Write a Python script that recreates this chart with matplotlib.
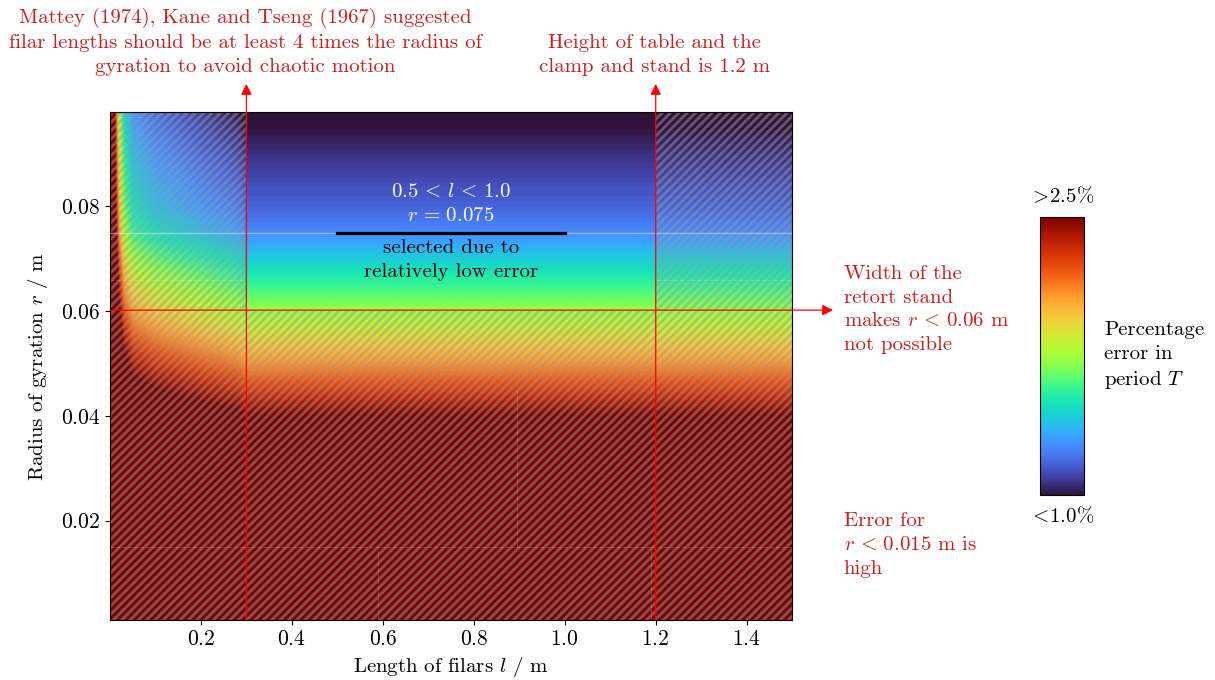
import numpy as np
import matplotlib
matplotlib.use("Agg")
import matplotlib.pyplot as plt
from matplotlib.patches import Rectangle
from matplotlib.cm import ScalarMappable
from matplotlib.colors import Normalize

plt.rcParams.update({
    "font.family": "serif",
    "font.serif": ["cmr10"],
    "mathtext.fontset": "cm",
    "axes.unicode_minus": False,
    "axes.formatter.use_mathtext": True,
    "font.size": 15,
    "hatch.linewidth": 2.1,
})

# grille : longueur des fils l (m) et rayon de giration r (m)
L_GRID = [0.0, 0.005, 0.01, 0.015, 0.02, 0.03, 0.05, 0.1, 0.2, 0.28, 0.3, 1.5]
R_GRID = [0.0, 0.035, 0.04, 0.045, 0.05, 0.055, 0.06, 0.065, 0.07, 0.075, 0.08, 0.09, 0.1]
# erreur en pourcent sur la periode T (une ligne par valeur de R_GRID)
ERR = [
    [9.0, 8.0, 7.5, 7.2, 7.0, 6.8, 6.6, 6.5, 6.4, 6.3, 6.2, 6.2],
    [5.8, 4.8, 4.25, 3.85, 3.55, 3.25, 3.07, 2.97, 2.87, 2.8, 2.75, 2.75],
    [5.5, 4.5, 4.0, 3.6, 3.3, 3.0, 2.82, 2.72, 2.62, 2.55, 2.5, 2.5],
    [5.3, 4.3, 3.78, 3.38, 3.08, 2.78, 2.6, 2.5, 2.4, 2.33, 2.28, 2.28],
    [5.1, 4.1, 3.58, 3.18, 2.88, 2.58, 2.4, 2.3, 2.2, 2.13, 2.08, 2.08],
    [4.9, 3.9, 3.4, 3.0, 2.7, 2.4, 2.22, 2.12, 2.02, 1.95, 1.9, 1.9],
    [4.7, 3.7, 3.22, 2.82, 2.52, 2.22, 2.04, 1.94, 1.84, 1.77, 1.72, 1.72],
    [4.6, 3.6, 3.07, 2.67, 2.37, 2.07, 1.89, 1.79, 1.69, 1.62, 1.57, 1.57],
    [4.4, 3.4, 2.92, 2.52, 2.22, 1.92, 1.74, 1.64, 1.54, 1.47, 1.42, 1.42],
    [4.3, 3.3, 2.76, 2.36, 2.06, 1.76, 1.58, 1.48, 1.38, 1.31, 1.26, 1.26],
    [4.2, 3.2, 2.67, 2.27, 1.97, 1.67, 1.49, 1.39, 1.29, 1.22, 1.17, 1.17],
    [4.1, 3.1, 2.56, 2.16, 1.86, 1.56, 1.38, 1.28, 1.18, 1.11, 1.06, 1.06],
    [4.0, 3.0, 2.45, 2.05, 1.75, 1.45, 1.27, 1.17, 1.07, 1.0, 0.95, 0.95],
]
ERR_MIN, ERR_MAX = 1.0, 2.5

# contraintes experimentales
L_MIN, L_MAX = 0.3, 1.2
R_MIN = 0.06
R_HIGH_ERR = 0.015
SEL_L = (0.5, 1.0)
SEL_R = 0.075

RED = "#cc1f1f"
LS = 1.42

fig = plt.figure(figsize=(12.15, 6.8), dpi=100)
ax = fig.add_axes([0.0905, 0.088, 0.5615, 0.747])
cax = fig.add_axes([0.856, 0.272, 0.036, 0.409])

norm = Normalize(ERR_MIN, ERR_MAX)
levels = np.linspace(ERR_MIN, ERR_MAX, 151)
ax.contourf(L_GRID, R_GRID, np.array(ERR), levels=levels, cmap="turbo",
            norm=norm, extend="both")
ax.set_xlim(0.0, 1.5)
ax.set_ylim(0.001, 0.098)

# zones hachurees (non realisables)
hatch_col = (0.6, 0.6, 0.6, 0.5)
for x0, y0, w, h in [(0.0, 0.0, L_MIN, 0.1),
                     (L_MAX, 0.0, 1.5 - L_MAX, 0.1),
                     (L_MIN, 0.0, L_MAX - L_MIN, R_MIN)]:
    ax.add_patch(Rectangle((x0, y0), w, h, facecolor="none", edgecolor=hatch_col,
                           hatch="////", lw=0, zorder=2))

# traits pointilles discrets
dash_kw = dict(color="white", alpha=0.2, lw=0.8, ls="--", zorder=2)
ax.plot([0.0, 1.5], [R_HIGH_ERR, R_HIGH_ERR], **dash_kw)
ax.plot([0.59, 0.59], [0.0, R_HIGH_ERR], **dash_kw)
ax.plot([1.19, 1.19], [0.0, R_HIGH_ERR], **dash_kw)
ax.plot([0.895, 0.895], [R_HIGH_ERR, 0.045], **dash_kw)
ax.plot([0.0, L_MIN], [0.066, 0.066], **dash_kw)
ax.plot([L_MAX, 1.5], [0.066, 0.066], **dash_kw)

# choix retenu
ax.axhline(SEL_R, color="white", alpha=0.4, lw=1, zorder=3)
ax.plot(SEL_L, [SEL_R, SEL_R], color="black", lw=2.3, zorder=4)
ax.text(0.75, 0.0764, r"$0.5 \,<\, l \,<\, 1.0$" "\n" r"$r \,=\, 0.075$", color="white",
        ha="center", va="bottom", zorder=5, linespacing=LS)
ax.text(0.75, 0.0737, "selected due to\nrelatively low error", color="black",
        ha="center", va="top", zorder=5, linespacing=LS)

# fleches rouges
arrow_kw = dict(arrowstyle="-|>", color="red", lw=0.9, mutation_scale=16,
                shrinkA=0, shrinkB=0)
for lx in [L_MIN, L_MAX]:
    ax.annotate("", xy=(lx, 0.1034), xytext=(lx, 0.001), arrowprops=arrow_kw,
                annotation_clip=False, zorder=6)
ax.annotate("", xy=(1.59, 0.0602), xytext=(0.0, 0.0602), arrowprops=arrow_kw,
            annotation_clip=False, zorder=6)

fig.text(245 / 1215, 1 - 42 / 680,
         "Mattey (1974), Kane and Tseng (1967) suggested\n"
         "filar lengths should be at least 4 times the radius of\n"
         "gyration to avoid chaotic motion",
         ha="center", va="center", color=RED, multialignment="center", linespacing=LS)
fig.text(655 / 1215, 1 - 55 / 680,
         "Height of table and the\nclamp and stand is 1.2 m",
         ha="center", va="center", color=RED, multialignment="center", linespacing=LS)
ax.text(1.613, 0.0603,
        "Width of the\nretort stand\nmakes $r \\,<\\, 0.06$ m\nnot possible",
        ha="left", va="center", color=RED, clip_on=False, linespacing=LS)
ax.text(1.613, 0.0154, "Error for\n$r \\,<\\, 0.015$ m is\nhigh",
        ha="left", va="center", color=RED, clip_on=False, linespacing=LS)

ax.set_xticks([0.2, 0.4, 0.6, 0.8, 1.0, 1.2, 1.4])
ax.set_yticks([0.02, 0.04, 0.06, 0.08])
ax.tick_params(labelsize=15.5)
ax.set_xlabel("Length of filars $l$ / m")
ax.set_ylabel("Radius of gyration $r$ / m", labelpad=8)

# barre de couleur
cb = fig.colorbar(ScalarMappable(norm=norm, cmap="turbo"), cax=cax)
cb.set_ticks([])
cb.outline.set_linewidth(0.8)
cax.text(0.5, 1.04, r"$>\!$2.5%", transform=cax.transAxes, ha="center", va="bottom")
cax.text(0.5, -0.04, r"$<\!$1.0%", transform=cax.transAxes, ha="center", va="top")
fig.text(1104 / 1215, 1 - 356 / 680, "Percentage\nerror in\nperiod $T$",
         ha="left", va="center", linespacing=LS)

fig.savefig("out.png", dpi=100)
